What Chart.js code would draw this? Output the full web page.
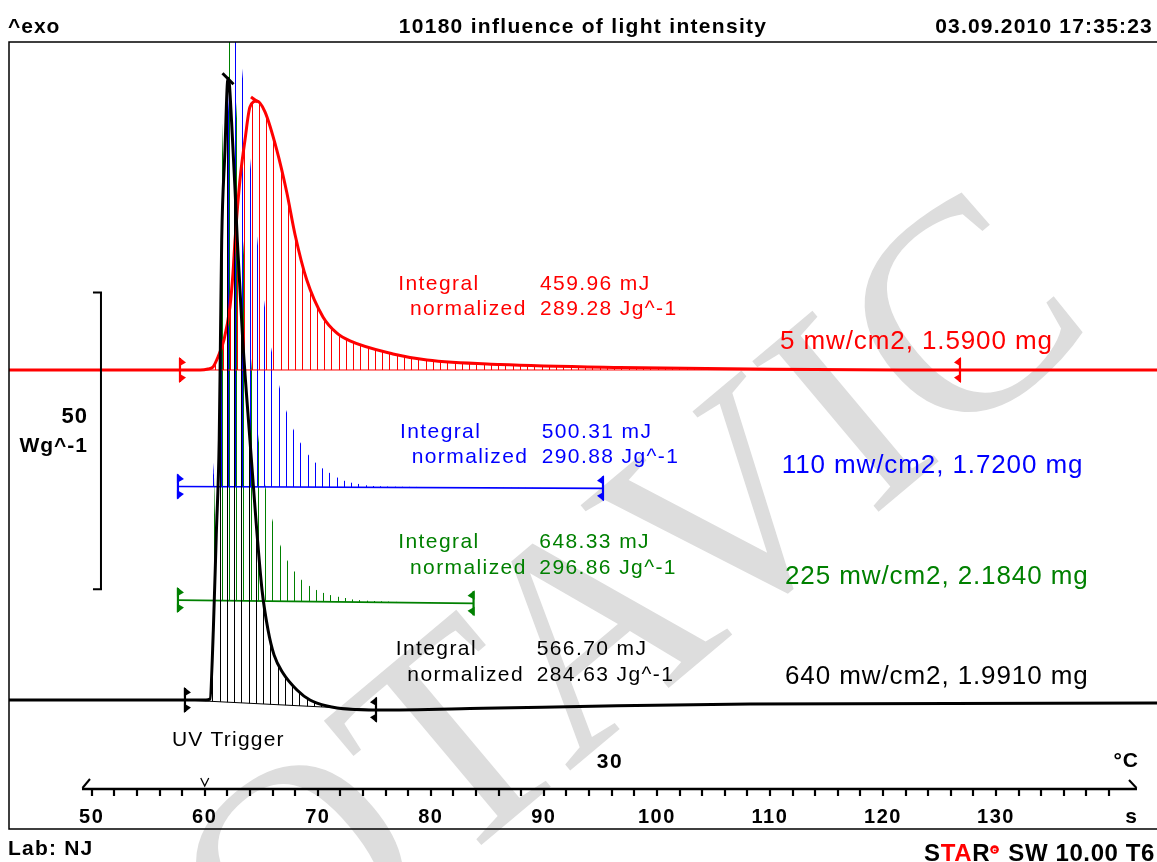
<!DOCTYPE html>
<html>
<head>
<meta charset="utf-8">
<title>10180 influence of light intensity</title>
<script src="https://cdn.jsdelivr.net/npm/chart.js@4.4.1/dist/chart.umd.min.js"></script>
<style>
html,body{margin:0;padding:0;background:#fff;overflow:hidden;}
#wrap{position:relative;width:1157px;height:862px;}
canvas{display:block;}
</style>
</head>
<body>
<div id="wrap"><canvas id="chart" width="1157" height="862"></canvas></div>
<script>
// ===== DATA: time in s, heat flow in W/g relative to each curve's own start baseline =====
const seriesLabels = ['640 mw/cm2, 1.9910 mg', '5 mw/cm2, 1.5900 mg', '110 mw/cm2, 1.7200 mg', '225 mw/cm2, 2.1840 mg'];
const seriesColors = ['#000000', '#ff0000', '#0000ff', '#008000'];
const seriesOffsets = [0, 55.62, 35.98, 16.85];          // vertical display offset, W/g
const integralValues = ['566.70 mJ', '459.96 mJ', '500.31 mJ', '648.33 mJ'];
const normalizedValues = ['284.63 Jg^-1', '289.28 Jg^-1', '290.88 Jg^-1', '296.86 Jg^-1'];
const limitStartTime = [58.25, 57.81, 57.63, 57.63];
const limitEndTime = [75.15, 126.81, 95.23, 83.78];
const limitEndDrift = [-1.63, 0, -0.30, -0.55];

const blackTime = [42.5, 60.11, 60.47, 60.76, 61.02, 61.28, 61.39, 61.5, 61.79, 62.0, 62.1, 62.38, 62.68, 62.88, 63.36, 64.0, 64.53, 65.07, 65.6, 66.13, 66.92, 68.16, 69.31, 70.81, 72.85, 75.24, 84.62, 96.47, 108.24, 145];
const blackFlow = [0, 0, 0.17, 11.8, 27.8, 43.8, 60.7, 77.5, 92.7, 103.9, 104.8, 97.3, 86.0, 77.5, 60.7, 43.8, 30.3, 18.5, 11.8, 7.6, 4.55, 1.69, 0, -1.01, -1.57, -1.69, -1.40, -0.96, -0.67, -0.51];

const redTime = [42.5, 59.6, 60.29, 60.73, 61.17, 61.70, 62.23, 62.50, 62.68, 62.90, 63.18, 63.56, 64.00, 64.62, 65.33, 66.37, 67.25, 67.99, 69.02, 70.46, 71.67, 72.85, 76.65, 79.66, 86.12, 96.74, 108.24, 121.5, 145];
const redFlow = [0, 0, 0.17, 0.51, 2.19, 5.06, 10.62, 16.35, 21.91, 27.47, 33.20, 38.77, 44.33, 45.34, 43.5, 37.1, 30.0, 22.8, 15.2, 8.94, 6.24, 4.89, 2.70, 1.69, 0.93, 0.42, 0.17, 0, 0];

const blueTime = [57.6, 60.3, 60.76, 61.40, 62.0, 62.74, 63.32, 64.0, 64.65, 65.27, 65.92, 66.57, 67.19, 67.83, 68.49, 69.11, 69.76, 70.40, 71.02, 71.68, 72.35, 73.0, 73.65, 74.27, 74.91, 77.3, 85, 95.3];
const blueFlow = [0, 0, 2.3, 31, 60.8, 80, 70.0, 55.4, 41.7, 31.0, 22.9, 17.1, 12.9, 9.69, 7.28, 5.48, 4.08, 3.07, 2.33, 1.55, 0.98, 0.64, 0.42, 0.2, 0.08, -0.05, -0.15, -0.3];

const greenTime = [57.6, 60.4, 60.85, 61.50, 62.14, 62.79, 63.43, 64.08, 64.71, 65.36, 66.0, 66.66, 67.3, 67.94, 68.59, 69.23, 69.88, 70.52, 71.17, 71.81, 72.45, 73.1, 75, 83.8];
const greenFlow = [0, 0, 16.1, 72.3, 100, 83.3, 59.5, 41.0, 28.0, 19.2, 13.4, 9.35, 6.7, 4.8, 3.35, 2.4, 1.7, 1.2, 0.8, 0.55, 0.35, 0.1, -0.15, -0.55];

const labeledTicks = [50, 60, 70, 80, 90, 100, 110, 120, 130];
const minorTickFrom = 50, minorTickTo = 140, tickStep = 2;
const xMin = 42.684, xMax = 144.24, yMin = -15.0, yMax = 110.9;
const axisFrom = 49.14, axisTo = 142.47, triggerTime = 60;
const scaleBarTime = 50.82, scaleBarFrom = 18.66, scaleBarSpan = 50;
const watermarkText = 'OTAVIC';

// ===== build =====
const canvas = document.getElementById('chart');
const c2d = canvas.getContext('2d');
function hatch(color, phase) {
  const cv = document.createElement('canvas');
  cv.width = 725; cv.height = 4;
  const g = cv.getContext('2d');
  g.fillStyle = color;
  for (let k = 0; k < 100; k++) g.fillRect(Math.round(k * 7.25), 0, 1, 4);
  const p = c2d.createPattern(cv, 'repeat');
  p.setTransform(new DOMMatrix([1, 0, 0, 1, phase, 0]));
  return p;
}
function series(times, flows, offset) { return times.map((t, i) => ({x: t, y: offset + flows[i]})); }
function limitLine(i) {
  return [{x: limitStartTime[i], y: seriesOffsets[i]}, {x: limitEndTime[i], y: seriesOffsets[i] + limitEndDrift[i]}];
}
const curveTimes = [blackTime, redTime, blueTime, greenTime];
const curveFlows = [blackFlow, redFlow, blueFlow, greenFlow];
const curveLineWidth = [3, 3, 0, 0];
const limitLineWidth = [1, 1, 1.7, 1.7];
const hatchPhase = [2, 5, 3, 4];

const datasets = [];
for (let i = 0; i < 4; i++) {
  datasets.push({
    label: seriesLabels[i],
    data: series(curveTimes[i], curveFlows[i], seriesOffsets[i]),
    borderColor: curveLineWidth[i] ? seriesColors[i] : 'rgba(0,0,0,0)',
    borderWidth: curveLineWidth[i] || 1,
    backgroundColor: hatch(seriesColors[i], hatchPhase[i]),
    fill: '+1',
    pointRadius: 0,
    cubicInterpolationMode: 'monotone',
    borderCapStyle: 'round', borderJoinStyle: 'round'
  });
  datasets.push({
    label: seriesLabels[i] + ' baseline',
    data: limitLine(i),
    borderColor: seriesColors[i],
    borderWidth: limitLineWidth[i],
    fill: false,
    pointRadius: 0
  });
}

const FONT = '"Liberation Sans", Arial, Helvetica, sans-serif';
function txt(ctx, s, x, y, font, color, align, spacing) {
  ctx.save();
  ctx.font = font; ctx.fillStyle = color || '#000';
  ctx.textAlign = align || 'left'; ctx.textBaseline = 'alphabetic';
  ctx.letterSpacing = spacing || '0px';
  ctx.fillText(s, x, y);
  ctx.restore();
}
function limitMark(ctx, x, y, dir, color) {
  ctx.save();
  ctx.strokeStyle = color; ctx.fillStyle = color; ctx.lineWidth = 2.2;
  ctx.beginPath(); ctx.moveTo(x, y - 12); ctx.lineTo(x, y + 12); ctx.stroke();
  ctx.beginPath(); ctx.moveTo(x - dir, y - 13); ctx.lineTo(x + dir * 6, y - 7.5); ctx.lineTo(x - dir, y - 3.5); ctx.closePath(); ctx.fill();
  ctx.beginPath(); ctx.moveTo(x - dir, y + 3.5); ctx.lineTo(x + dir * 6, y + 7.5); ctx.lineTo(x - dir, y + 13); ctx.closePath(); ctx.fill();
  ctx.restore();
}

// text layout (pixels)
const integralLayout = [
  {ix: 395.7, iy: 655, vx: 536.7, nx: 407.3, ny: 681, lx: 785, ly: 684},
  {ix: 398.3, iy: 290, vx: 540, nx: 410, ny: 315, lx: 780, ly: 349},
  {ix: 400, iy: 438.3, vx: 541.7, nx: 411.7, ny: 462.7, lx: 781.7, ly: 472.7},
  {ix: 398.3, iy: 548.3, vx: 539.3, nx: 410, ny: 574, lx: 785, ly: 584}
];

const decor = {
  id: 'decor',
  beforeDraw(chart) {
    const ctx = chart.ctx;
    ctx.save();
    ctx.fillStyle = '#fff';
    ctx.fillRect(0, 0, chart.width, chart.height);
    ctx.translate(280, 1014);
    ctx.rotate(-40 * Math.PI / 180);
    ctx.font = '300px "Liberation Serif", "DejaVu Serif", serif';
    ctx.fillStyle = '#dddddd';
    ctx.fillText(watermarkText, 0, 0);
    ctx.restore();
    ctx.letterSpacing = '1.5px';
  },
  afterDraw(chart) {
    const ctx = chart.ctx;
    ctx.letterSpacing = '0px';
    const xs = chart.scales.x, ys = chart.scales.y, ca = chart.chartArea;
    const X = v => xs.getPixelForValue(v), Y = v => ys.getPixelForValue(v);
    ctx.save();
    // frame
    ctx.strokeStyle = '#000'; ctx.lineWidth = 1.5;
    ctx.beginPath();
    ctx.moveTo(1157, ca.top); ctx.lineTo(ca.left, ca.top); ctx.lineTo(ca.left, 829); ctx.lineTo(1157, 829);
    ctx.stroke();
    // time axis line with half arrows
    const ay = ca.bottom, a0 = X(axisFrom), a1 = X(axisTo);
    ctx.lineWidth = 2.5;
    ctx.beginPath(); ctx.moveTo(a0, ay); ctx.lineTo(a1, ay); ctx.stroke();
    ctx.lineWidth = 2;
    ctx.beginPath(); ctx.moveTo(a0 + 0.5, ay - 1); ctx.lineTo(a0 + 8, ay - 10); ctx.stroke();
    ctx.beginPath(); ctx.moveTo(a1 - 0.5, ay - 1); ctx.lineTo(a1 - 8, ay - 9); ctx.stroke();
    // UV trigger mark
    const tx = X(triggerTime);
    ctx.lineWidth = 1.3;
    ctx.beginPath(); ctx.moveTo(tx - 4, ay - 11); ctx.lineTo(tx, ay - 3); ctx.lineTo(tx + 4, ay - 11); ctx.stroke();
    // scale bar
    const bx = X(scaleBarTime), b0 = Y(scaleBarFrom + scaleBarSpan), b1 = Y(scaleBarFrom);
    ctx.lineWidth = 2;
    ctx.beginPath(); ctx.moveTo(bx - 8, b0); ctx.lineTo(bx, b0); ctx.lineTo(bx, b1); ctx.lineTo(bx - 8, b1); ctx.stroke();
    ctx.restore();

    // integration limit marks and peak ticks
    for (let i = 0; i < 4; i++) {
      limitMark(ctx, X(limitStartTime[i]), Y(seriesOffsets[i]), 1, seriesColors[i]);
      limitMark(ctx, X(limitEndTime[i]), Y(seriesOffsets[i] + limitEndDrift[i]), -1, seriesColors[i]);
    }
    const peakTick = (times, flows, off, color, a, b) => {
      const k = flows.indexOf(Math.max(...flows));
      const px = X(times[k]), py = Y(off + flows[k]);
      ctx.save(); ctx.strokeStyle = color; ctx.lineWidth = 3;
      ctx.beginPath(); ctx.moveTo(px + a[0], py + a[1]); ctx.lineTo(px + b[0], py + b[1]); ctx.stroke();
      ctx.restore();
    };
    peakTick(blackTime, blackFlow, seriesOffsets[0], '#000', [-6, -5], [5, 6]);
    peakTick(redTime, redFlow, seriesOffsets[1], '#ff0000', [-6, -4], [1, 1]);

    // texts
    const B21 = 'bold 21px ' + FONT;
    txt(ctx, '^exo', 8, 32.5, B21, '#000', 'left', '1px');
    txt(ctx, '10180 influence of light intensity', 583, 32.5, B21, '#000', 'center', '1.3px');
    txt(ctx, '03.09.2010 17:35:23', 1153, 32.5, B21, '#000', 'right', '1.2px');
    txt(ctx, 'Lab: NJ', 8, 855, B21, '#000', 'left', '1.2px');
    txt(ctx, '50', 88, 422.7, 'bold 22px ' + FONT, '#000', 'right', '1px');
    txt(ctx, 'Wg^-1', 88, 451.7, 'bold 21px ' + FONT, '#000', 'right', '1px');
    txt(ctx, '30', 610, 768, B21, '#000', 'center', '1.5px');
    txt(ctx, '\u00B0C', 1139, 767.3, B21, '#000', 'right', '1px');
    txt(ctx, 's', 1137, 823.3, B21, '#000', 'right', '0px');
    txt(ctx, 'UV Trigger', 172, 746, '21px ' + FONT, '#000', 'left', '1.2px');

    const R21 = '21px ' + FONT;
    const L26 = '26px ' + FONT;
    for (let i = 0; i < 4; i++) {
      const L = integralLayout[i], col = seriesColors[i];
      txt(ctx, 'Integral', L.ix, L.iy, R21, col, 'left', '1.4px');
      txt(ctx, integralValues[i], L.vx, L.iy, R21, col, 'left', '1.4px');
      txt(ctx, 'normalized', L.nx, L.ny, R21, col, 'left', '1.4px');
      txt(ctx, normalizedValues[i], L.vx, L.ny, R21, col, 'left', '1.4px');
      txt(ctx, seriesLabels[i], L.lx, L.ly, L26, col, 'left', '0.9px');
    }

    // STARe SW 10.00 T6
    ctx.save();
    const B24 = 'bold 24px ' + FONT;
    ctx.font = B24; ctx.letterSpacing = '0.6px';
    const parts = [['S', '#000'], ['TA', '#ff0000'], ['R', '#000']];
    const tail = ' SW 10.00 T6';
    let w = 0;
    parts.forEach(p => { w += ctx.measureText(p[0]).width; });
    const supW = 11;
    w += supW + ctx.measureText(tail).width;
    let x = 1155 - w;
    ctx.textBaseline = 'alphabetic';
    parts.forEach(p => { ctx.fillStyle = p[1]; ctx.fillText(p[0], x, 860.7); x += ctx.measureText(p[0]).width; });
    ctx.fillStyle = '#ff0000';
    ctx.beginPath(); ctx.arc(x + 4.5, 849.5, 4.3, 0, Math.PI * 2); ctx.fill();
    ctx.fillStyle = '#fff'; ctx.font = 'bold 8px ' + FONT; ctx.letterSpacing = '0px';
    ctx.textAlign = 'center'; ctx.fillText('e', x + 4.5, 852.3);
    x += supW;
    ctx.textAlign = 'left'; ctx.font = B24; ctx.letterSpacing = '0.6px'; ctx.fillStyle = '#000';
    ctx.fillText(tail, x, 860.7);
    ctx.restore();
  }
};

Chart.defaults.font.family = FONT;
new Chart(canvas, {
  type: 'line',
  data: {datasets},
  options: {
    responsive: false,
    animation: false,
    devicePixelRatio: 1,
    events: [],
    layout: {padding: {left: 9, right: 0, top: 42, bottom: 33}},
    plugins: {legend: {display: false}, tooltip: {enabled: false}, title: {display: false}},
    scales: {
      x: {
        type: 'linear', position: 'bottom', min: xMin, max: xMax,
        afterFit: s => { s.height = 40; },
        afterBuildTicks: s => { s.ticks = s.ticks.filter(t => t.value >= minorTickFrom - 1e-6 && t.value <= minorTickTo + 1e-6); },
        border: {display: false},
        grid: {display: true, drawOnChartArea: false, drawTicks: true, tickLength: 7, tickWidth: 2.2, tickColor: '#000', color: '#000', lineWidth: 2},
        ticks: {
          stepSize: tickStep, autoSkip: false, maxRotation: 0, minRotation: 0, padding: 9, color: '#000',
          font: {family: FONT, size: 20, weight: 'bold'},
          callback: v => labeledTicks.some(t => Math.abs(t - v) < 1e-6) ? String(Math.round(v)) : ''
        }
      },
      y: {type: 'linear', display: false, min: yMin, max: yMax}
    }
  },
  plugins: [decor]
});
</script>
</body>
</html>
